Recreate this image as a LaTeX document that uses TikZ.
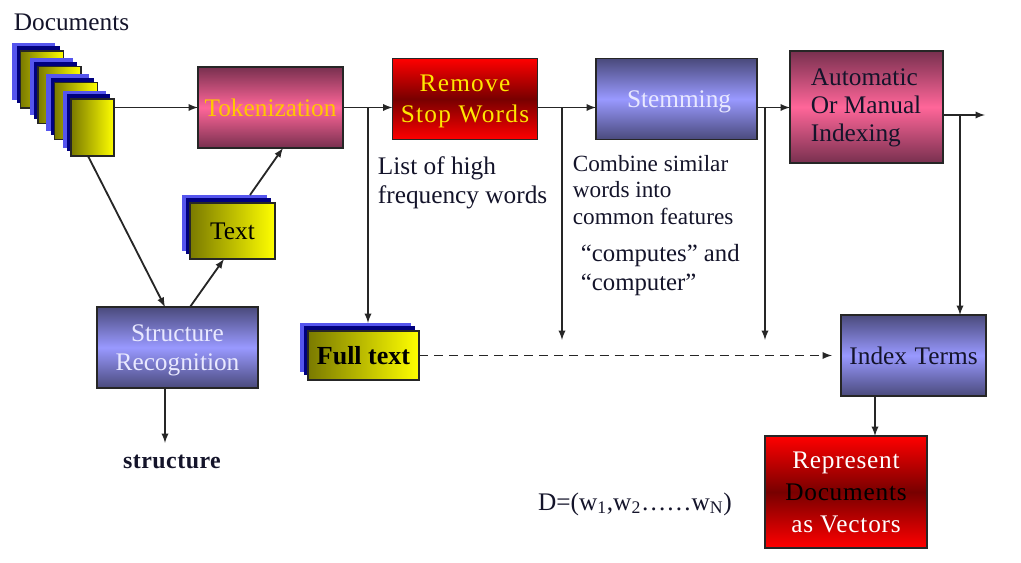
\documentclass[tikz,border=0pt]{standalone}
\usepackage{fontspec}
\setmainfont{Liberation Serif}
\usepackage{tikz}
\usetikzlibrary{shadows}
\def\px{0.025cm}
\definecolor{plumdark}{HTML}{78304F}
\definecolor{plumlight}{HTML}{FF6699}
\definecolor{bluedark}{HTML}{4A4A7C}
\definecolor{bluelight}{HTML}{9999FF}
\definecolor{reddark}{HTML}{780000}
\definecolor{olivedark}{HTML}{7A7A00}
\definecolor{shadowblue}{HTML}{5555EE}
\definecolor{shadownavy}{HTML}{00007E}
\definecolor{tokentext}{HTML}{FFC800}
\definecolor{palelabel}{HTML}{E8E8FF}
\definecolor{inktext}{HTML}{14142A}

\begin{document}
\begin{tikzpicture}[x=\px,y=-\px,->,>=latex,line width=1.3pt,draw=black!85,
            font=\fontsize{18}{20.5}\selectfont]
            \tikzstyle{box}=[draw=black!85,line width=1.3pt,inner sep=0pt,outer sep=0pt,align=center,
                shading angle=0,minimum width=145*\px,minimum height=81*\px]
            \tikzstyle{plum box}=[box,top color=plumdark,bottom color=plumdark,middle color=plumlight]
            \tikzstyle{blue box}=[box,top color=bluedark,bottom color=bluedark,middle color=bluelight]
            \tikzstyle{red box}=[box,top color=red,bottom color=red,middle color=reddark]
            \tikzstyle{paper}=[box,left color=olivedark,right color=yellow,
                general shadow={fill=shadowblue,shadow xshift=-8.5*\px,shadow yshift=8*\px},
                general shadow={fill=shadownavy,shadow xshift=-4*\px,shadow yshift=4.5*\px}]
            \tikzstyle{note}=[inner sep=0pt,align=left,text=inktext]
            \tikzstyle{small note}=[note,font=\fontsize{16.5}{18.7}\selectfont]

            \useasboundingbox (0,0) rectangle (1021,563);

            \node[note] (DOCS) at (71.5,22) {Documents};

            % Draw the stack of pages, back to front
            \foreach \name / \x / \y in {1/42/79.5,2/59.5/95,3/76/111,4/92.5/127.5}
                \node[paper,minimum width=43*\px,minimum height=57*\px] (DOC-\name) at (\x,\y) {};

            \node[plum box,text=tokentext] (TOKEN) at (270.5,107.5) {Tokenization};
            \node[red box,text=yellow!90!orange,text depth=0pt,font=\fontsize{18}{22}\selectfont\addfontfeature{LetterSpace=5}] (REMOVE) at (465,99) {Remove\\Stop Words};
            \node[blue box,text=palelabel,text depth=0pt,minimum width=161*\px] (STEM) at (676.5,99) {\hspace{0.2em}Stemming};
            \node[plum box,text=inktext,minimum width=153*\px,minimum height=112*\px] (INDEXING) at (866.5,107) {};
            \node[note,anchor=west,font=\fontsize{18}{20}\selectfont] (INDEXINGTEXT) at (810,108) {Automatic\\Or Manual\\Indexing};
            \node[paper,minimum width=85*\px,minimum height=56*\px] (TEXT) at (232.5,231) {Text};
            \node[blue box,text=palelabel,text depth=0pt,minimum width=161*\px] (STRUCT) at (177.5,347.5) {Structure\\Recognition};
            \node[paper,minimum width=111*\px,minimum height=49*\px,font=\fontsize{18.5}{21}\selectfont\bfseries] (FULL) at (363.5,355.5) {Full text};
            \node[blue box,text=inktext] (TERMS) at (913.5,355.5) {Index\hspace{0.3em}Terms};
            \node[red box,text=white,minimum width=162*\px,minimum height=112*\px,font=\fontsize{18}{22.7}\selectfont\addfontfeature{LetterSpace=3}] (VECTORS) at (846,492) {Represent\\\textcolor{black}{Documents}\\as Vectors};

            \node[note,anchor=west] (LIST) at (377,183) {List of high\\frequency words};
            \node[small note,anchor=west] (COMBINE) at (572,190) {Combine similar\\words into\\common features};
            \node[note,anchor=west,font=\fontsize{17.6}{20.5}\selectfont] (COMPUTES) at (580,270) {``computes'' and\\``computer''};
            \node[note,font=\fontsize{17}{20}\selectfont\bfseries\addfontfeature{LetterSpace=2}] (STRUCTURE) at (172,462) {structure};
            \node[note] (VECTOR) at (635,504) {D=(w\textsubscript{1},w\textsubscript{2}……w\textsubscript{N})};

            % Free ends and branch points
            \coordinate (J-FULL) at (368,107.5);
            \coordinate (J-STOP) at (562,107.5);
            \coordinate (J-STEM) at (765,107.5);
            \coordinate (J-TERMS) at (960,115);
            \coordinate (END-STOP) at (562,340);
            \coordinate (END-STEM) at (765,340);
            \coordinate (END-OUT) at (985,115);
            \coordinate (END-STRUCT) at (165,443);
            \coordinate (DOC-FOOT) at (88,156);
            \coordinate (STRUCT-IN) at (165,307);
            \coordinate (STRUCT-OUT) at (190,307);
            \coordinate (TEXT-IN) at (224,259);
            \coordinate (TEXT-OUT) at (250,195);
            \coordinate (TOKEN-IN) at (283,148);
            \coordinate (TERMS-OUT) at (875,396);

            % Connect the main chain, left to right
            \draw (DOC-4.east |- TOKEN) -- (TOKEN.west);
            \draw (TOKEN.east) -- (REMOVE.west |- TOKEN);
            \draw (REMOVE.east |- TOKEN) -- (STEM.west |- TOKEN);
            \draw (STEM.east |- TOKEN) -- (INDEXING.west |- TOKEN);
            \draw (INDEXING.east |- J-TERMS) -- (END-OUT);

            % Branches going down
            \draw[shorten >=8*\px] (J-FULL) -- (J-FULL |- FULL.north);
            \draw (J-STOP) -- (END-STOP);
            \draw (J-STEM) -- (END-STEM);
            \draw (J-TERMS) -- (J-TERMS |- TERMS.north);
            \draw (TERMS-OUT) -- (TERMS-OUT |- VECTORS.north);
            \draw (STRUCT-IN |- STRUCT.south) -- (END-STRUCT);

            % Structure path
            \draw (DOC-FOOT) -- (STRUCT-IN);
            \draw (STRUCT-OUT) -- (TEXT-IN);
            \draw (TEXT-OUT) -- (TOKEN-IN);

            \draw[dash pattern=on 6.4pt off 4.3pt,shorten >=9*\px] (FULL) -- (TERMS);
\end{tikzpicture}
\end{document}
